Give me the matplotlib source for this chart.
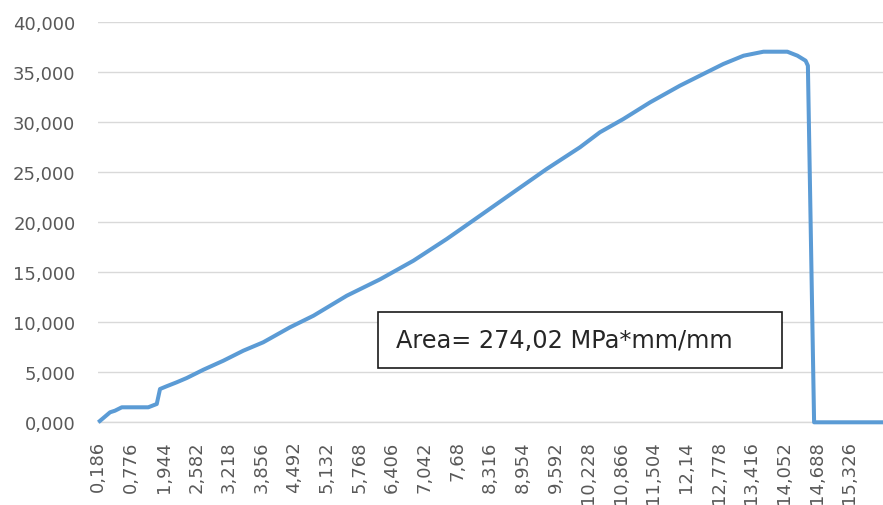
import matplotlib
matplotlib.use("Agg")
import matplotlib.pyplot as plt
from matplotlib.patches import Rectangle
from matplotlib.ticker import FuncFormatter, MultipleLocator

# Category tick labels (strain), one per labelled category position
tick_labels = ["0,186", "0,776", "1,944", "2,582", "3,218", "3,856", "4,492",
               "5,132", "5,768", "6,406", "7,042", "7,68", "8,316", "8,954",
               "9,592", "10,228", "10,866", "11,504", "12,14", "12,778",
               "13,416", "14,052", "14,688", "15,326"]

# Curve: position along the category axis
# (in units of label intervals) and stress in MPa
pos = [0, 0.36, 0.51, 0.72, 1.53, 1.79, 1.89, 2.09, 2.40, 2.71, 3.22, 3.83,
       4.44, 5.05, 5.87, 6.59, 7.61, 8.63, 9.65, 10.67, 11.69, 12.71, 13.73,
       14.75, 15.36, 16.08, 16.90, 17.81, 18.63, 19.14, 19.76, 20.37, 21.10,
       21.41, 21.66, 21.73, 21.92, 24.03]
stress = [0, 1.00, 1.16, 1.50, 1.50, 1.83, 3.33, 3.60, 4.00, 4.43, 5.26, 6.16,
          7.16, 8.00, 9.50, 10.66, 12.66, 14.30, 16.16, 18.33, 20.66, 23.00,
          25.33, 27.50, 29.00, 30.33, 32.00, 33.66, 35.00, 35.83, 36.66, 37.06,
          37.06, 36.66, 36.16, 35.66, 0, 0]

annotation = "Area= 274,02 MPa*mm/mm"

W, H = 883, 506
fig = plt.figure(figsize=(W / 100, H / 100), dpi=100)
ax = fig.add_axes([98.3 / W, (H - 423.3) / H, (W - 98.3) / W, (423.3 - 23.3) / H])

ax.plot(pos, stress, color="#5B9BD5", lw=2.9, solid_joinstyle="round",
        solid_capstyle="butt", clip_on=False, zorder=3)

ax.set_xlim(0, 24.03)
ax.set_ylim(0, 40)
ax.yaxis.set_major_locator(MultipleLocator(5))
ax.yaxis.set_major_formatter(FuncFormatter(lambda v, p: f"{v:.3f}".replace(".", ",")))
ax.set_xticks(range(len(tick_labels)))
ax.set_xticklabels(tick_labels, rotation=90)

ax.grid(axis="y", color="#D9D9D9", lw=1.0)
ax.set_axisbelow(True)
for s in ["top", "right", "left"]:
    ax.spines[s].set_visible(False)
ax.spines["bottom"].set_color("#D9D9D9")
ax.spines["bottom"].set_linewidth(1.0)
ax.tick_params(axis="both", length=0, labelsize=13, colors="#595959")
ax.tick_params(axis="y", pad=16.5)
ax.tick_params(axis="x", pad=13)

# annotation text box
bx0, by0, bx1, by1 = 378, 313, 782, 369
fig.patches.append(Rectangle((bx0 / W, (H - by1) / H), (bx1 - bx0) / W, (by1 - by0) / H,
                             transform=fig.transFigure, fill=True, facecolor="white",
                             edgecolor="#1a1a1a", lw=1.2, zorder=5))
fig.text(396 / W, (H - 341) / H, annotation, fontsize=17.3, color="#262626",
         ha="left", va="center", zorder=6)

fig.savefig("out.png", dpi=100)
